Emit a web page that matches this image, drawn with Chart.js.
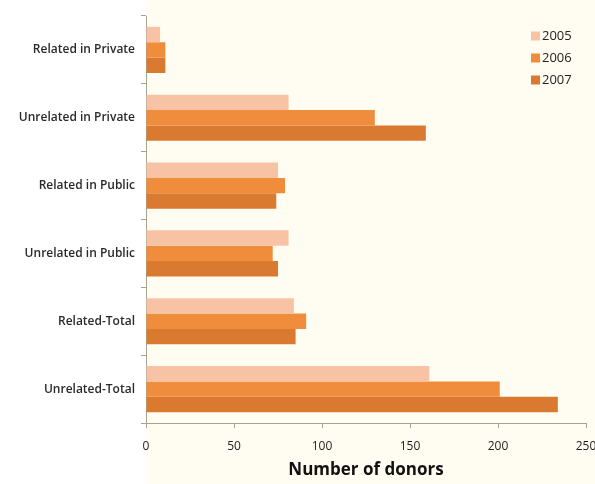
<!DOCTYPE html>
<html>
<head>
<meta charset="utf-8">
<script src="https://cdn.jsdelivr.net/npm/chart.js@4.4.1/dist/chart.umd.min.js"></script>
<style>
  html, body { margin: 0; padding: 0; background: #fff; overflow: hidden; }
  #wrap { width: 595px; height: 484px; }
</style>
</head>
<body>
<div id="wrap"><canvas id="donors"></canvas></div>
<script>
// 데이터
const categories = [
  'Related in Private',
  'Unrelated in Private',
  'Related in Public',
  'Unrelated in Public',
  'Related-Total',
  'Unrelated-Total',
];
const years = ['2005', '2006', '2007'];
const donors2005 = [8, 81, 75, 81, 84, 161];
const donors2006 = [11, 130, 79, 72, 91, 201];
const donors2007 = [11, 159, 74, 75, 85, 234];
const xTicks = [0, 50, 100, 150, 200, 250];

const colors = ['#f8c3a4', '#f08d3c', '#da7a30'];
const AXIS = '#a8a290';

// 막대에 약간의 세로 그라데이션
function barFill(base) {
  return (ctx) => {
    const el = ctx.element;
    const c = ctx.chart.ctx;
    if (!el || el.y == null || !el.height) return base;
    const h = el.height;
    const g = c.createLinearGradient(0, el.y - h / 2, 0, el.y + h / 2);
    g.addColorStop(0, base);
    g.addColorStop(0.55, base);
    g.addColorStop(1, shade(base, -0.08));
    return g;
  };
}
function shade(hex, amt) {
  const n = parseInt(hex.slice(1), 16);
  const f = (v) => Math.max(0, Math.min(255, Math.round(v * (1 + amt))));
  return `rgb(${f(n >> 16)},${f((n >> 8) & 255)},${f(n & 255)})`;
}

const bgPlugin = {
  id: 'bg',
  beforeDraw(chart) {
    const { ctx, chartArea } = chart;
    ctx.save();
    ctx.fillStyle = '#fffdf2';
    ctx.fillRect(chartArea.left, 0, chart.width - chartArea.left, chart.height);
    ctx.restore();
  },
};

// 오른쪽 위 범례 (세로)
const legendPlugin = {
  id: 'sideLegend',
  afterDraw(chart) {
    const { ctx } = chart;
    ctx.save();
    ctx.font = '13px "Open Sans", sans-serif';
    ctx.textBaseline = 'middle';
    chart.data.datasets.forEach((ds, i) => {
      const y = 36 + i * 22;
      ctx.fillStyle = colors[i];
      ctx.fillRect(531, y - 4.5, 9, 9);
      ctx.fillStyle = '#222';
      ctx.fillText(ds.label, 542, y);
    });
    ctx.restore();
  },
};

new Chart(document.getElementById('donors'), {
  type: 'bar',
  data: {
    labels: categories,
    datasets: [donors2005, donors2006, donors2007].map((vals, i) => ({
      label: years[i],
      data: vals,
      backgroundColor: barFill(colors[i]),
      borderWidth: 0,
      categoryPercentage: 0.68,
      barPercentage: 1.0,
    })),
  },
  options: {
    indexAxis: 'y',
    responsive: true,
    maintainAspectRatio: false,
    animation: false,
    layout: { padding: { top: 16, right: 9, left: 0, bottom: 0 } },
    plugins: {
      legend: { display: false },
      tooltip: { enabled: false },
    },
    scales: {
      x: {
        min: 0,
        max: 250,
        afterBuildTicks(scale) {
          scale.ticks = xTicks.map((v) => ({ value: v }));
        },
        afterFit(scale) {
          scale.height = 61;
          scale.paddingRight = 0;
          scale.paddingLeft = 0;
        },
        grid: { drawOnChartArea: false, drawTicks: true, tickLength: 5, color: AXIS },
        border: { display: true, color: AXIS, width: 1 },
        ticks: {
          color: '#222',
          font: { family: '"Open Sans", sans-serif', size: 12 },
          padding: 11,
          maxRotation: 0,
        },
        title: {
          display: true,
          text: 'Number of donors',
          color: '#111',
          font: { family: '"Open Sans", sans-serif', size: 17, weight: 'bold' },
          padding: { top: 0, bottom: 4 },
        },
      },
      y: {
        afterFit(scale) {
          scale.width = 146;
        },
        grid: { offset: true, drawOnChartArea: false, drawTicks: true, tickLength: 5, color: AXIS },
        border: { display: true, color: AXIS, width: 1 },
        ticks: {
          color: '#2a2a2a',
          font: { family: '"Open Sans", sans-serif', size: 12, weight: '600' },
          padding: 6,
        },
      },
    },
  },
  plugins: [bgPlugin, legendPlugin],
});
</script>
</body>
</html>
